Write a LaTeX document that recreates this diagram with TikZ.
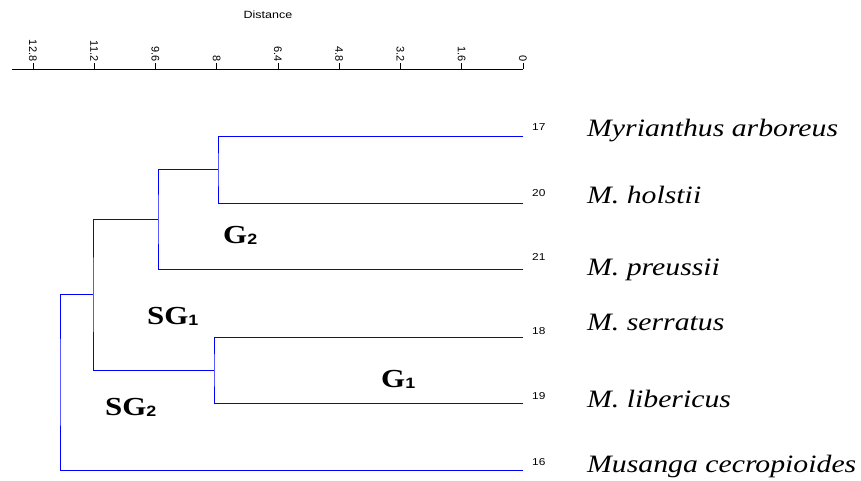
\documentclass[tikz,border=0pt]{standalone}
\usepackage{fontspec}
\setmainfont{Liberation Serif}
\newfontfamily\arialf{Liberation Sans}
\newcommand{\hs}[1]{\scalebox{1.19}[1]{#1}}
\newcommand{\subd}[1]{\raisebox{-1.7pt}{\arialf\bfseries\fontsize{15}{15}\selectfont #1}}
\begin{document}
\begin{tikzpicture}[x=1pt,y=-1pt,
  branch/.style={draw={rgb,255:red,0;green,0;blue,255}, line width=1pt},
  axisline/.style={draw=black, line width=1pt},
  ticklab/.style={font=\arialf\fontsize{11}{12}\selectfont, rotate=-90, anchor=east, inner sep=0pt},
  leafnum/.style={font=\arialf\fontsize{10}{12}\selectfont, anchor=west, inner sep=0pt},
  species/.style={font=\fontsize{25}{30}\selectfont\itshape, anchor=base west, inner sep=0pt},
  grp/.style={font=\fontsize{26}{30}\selectfont\bfseries, anchor=base west, inner sep=0pt},
  title/.style={font=\arialf\fontsize{10.5}{12}\selectfont, inner sep=0pt}]
\useasboundingbox (0,0) rectangle (861,480);

% axis
\node[title] (dist) at (268,15) {\hs{Distance}};
\coordinate (ax0) at (12,69);
\coordinate (ax1) at (523,69);
\draw[axisline] (ax0) -- (ax1);
\foreach \lab [count=\i from 0] in {12.8,11.2,9.6,8,6.4,4.8,3.2,1.6,0} {
  \coordinate (tb\i) at ({33+61.25*\i},69);
  \coordinate (tt\i) at ({33+61.25*\i},63);
  \draw[axisline] (tb\i) -- (tt\i);
  \node[ticklab] (tl\i) at ({33+61.25*\i},61.5) {\lab};
}

% leaves
\coordinate (l17) at (523,136);
\coordinate (l20) at (523,203);
\coordinate (l21) at (523,269);
\coordinate (l18) at (523,337);
\coordinate (l19) at (523,403);
\coordinate (l16) at (523,470);
% internal nodes
\coordinate (nA) at (218,169.5);
\coordinate (nB) at (158,219.25);
\coordinate (nC) at (214,370);
\coordinate (nD) at (93,294.6);
\coordinate (nE) at (60,382.3);

\draw[branch] (l17) -| (nA) |- (l20);
\draw[branch] (nA) -| (nB) |- (l21);
\draw[branch] (l18) -| (nC) |- (l19);
\draw[branch] (nB) -| (nD) |- (nC);
\draw[branch] (nD) -| (nE) |- (l16);

% leaf numbers
\node[leafnum] (n17) at (532,127) {\hs{17}};
\node[leafnum] (n20) at (532,193) {\hs{20}};
\node[leafnum] (n21) at (532,257) {\hs{21}};
\node[leafnum] (n18) at (532,331) {\hs{18}};
\node[leafnum] (n19) at (532,396) {\hs{19}};
\node[leafnum] (n16) at (532,462) {\hs{16}};

% species names
\node[species] (s17) at (587,136) {\hs{Myrianthus arboreus}};
\node[species] (s20) at (587,203) {\hs{M. holstii}};
\node[species] (s21) at (587,275) {\hs{M. preussii}};
\node[species] (s18) at (587,330) {\hs{M. serratus}};
\node[species] (s19) at (587,407) {\hs{M. libericus}};
\node[species] (s16) at (587,472) {\hs{Musanga cecropioides}};

% group labels
\node[grp] (g2) at (223,243) {\hs{G\subd{2}}};
\node[grp] (sg1) at (147,324) {\hs{SG\subd{1}}};
\node[grp] (sg2) at (105,415) {\hs{SG\subd{2}}};
\node[grp] (g1) at (381,387) {\hs{G\subd{1}}};
\end{tikzpicture}
\end{document}
